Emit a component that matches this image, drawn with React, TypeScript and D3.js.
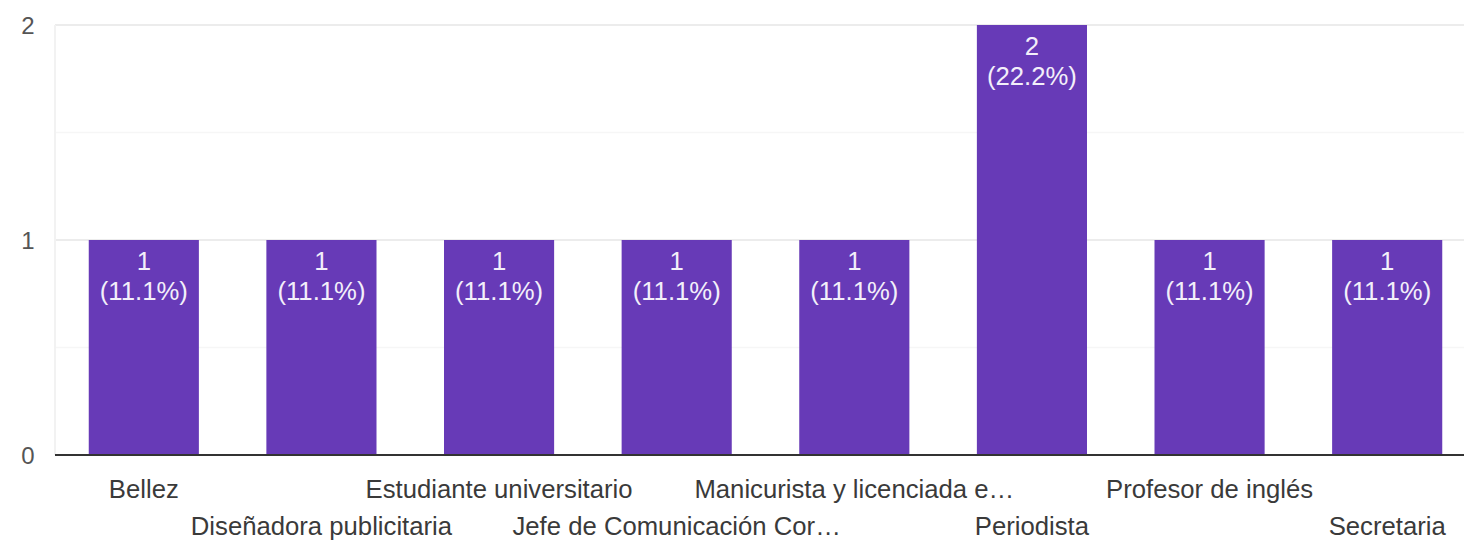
import { useEffect, useRef } from "react";
import * as d3 from "d3";

const W = 1464;
const H = 540;
const M = { top: 25, right: -12, bottom: 85, left: 55 };
const FONT = "'Liberation Sans', Arial, Helvetica, sans-serif";
const FS = 25.7;

const categories = [
  "Bellez",
  "Diseñadora publicitaria",
  "Estudiante universitario",
  "Jefe de Comunicación Cor…",
  "Manicurista y licenciada e…",
  "Periodista",
  "Profesor de inglés",
  "Secretaria",
];
const counts = [1, 1, 1, 1, 1, 2, 1, 1];
const percents = ["11.1%", "11.1%", "11.1%", "11.1%", "11.1%", "22.2%", "11.1%", "11.1%"];
const yTicks = [0, 1, 2];
const yMinorTicks = [0.5, 1.5];

export default function App() {
  const svgRef = useRef<SVGSVGElement>(null);

  useEffect(() => {
    if (!svgRef.current) return;
    const el = svgRef.current;
    d3.select(el).selectAll("*").remove();

    const iW = W - M.left - M.right;
    const iH = H - M.top - M.bottom;

    const svg = d3.select(el).append("g").attr("transform", `translate(${M.left},${M.top})`);

    const x = d3.scaleBand<string>().domain(categories).range([0, iW])
      .paddingInner(0.38).paddingOuter(0.19);
    const y = d3.scaleLinear().domain([0, 2]).range([iH, 0]);

    // grid
    yMinorTicks.forEach(v => {
      svg.append("line").attr("x1", 0).attr("x2", iW)
        .attr("y1", y(v)).attr("y2", y(v))
        .attr("stroke", "#f6f6f6").attr("stroke-width", 1.5);
    });
    yTicks.filter(v => v > 0).forEach(v => {
      svg.append("line").attr("x1", 0).attr("x2", iW)
        .attr("y1", y(v)).attr("y2", y(v))
        .attr("stroke", "#ececec").attr("stroke-width", 2);
    });
    svg.append("line").attr("x1", 0).attr("x2", 0)
      .attr("y1", 0).attr("y2", iH)
      .attr("stroke", "#f2f2f2").attr("stroke-width", 2);

    // bars
    svg.selectAll("rect.bar").data(counts).join("rect")
      .attr("class", "bar")
      .attr("x", (_, i) => x(categories[i])!)
      .attr("y", d => y(d))
      .attr("width", x.bandwidth())
      .attr("height", d => iH - y(d))
      .attr("fill", "#673ab7");

    // bar labels
    const lbl = svg.selectAll("g.lbl").data(counts).join("g")
      .attr("class", "lbl")
      .attr("transform", (d, i) => `translate(${x(categories[i])! + x.bandwidth() / 2},${y(d)})`);
    lbl.append("text").attr("y", 30).attr("text-anchor", "middle")
      .attr("font-family", FONT).attr("font-size", FS).attr("fill", "#f3effa")
      .text(d => String(d));
    lbl.append("text").attr("y", 60).attr("text-anchor", "middle")
      .attr("font-family", FONT).attr("font-size", FS).attr("fill", "#f3effa")
      .text((_, i) => `(${percents[i]})`);

    // baseline
    svg.append("line").attr("x1", 0).attr("x2", iW)
      .attr("y1", iH).attr("y2", iH)
      .attr("stroke", "#333").attr("stroke-width", 2);

    // y tick labels
    yTicks.forEach(v => {
      svg.append("text").attr("x", -27).attr("y", y(v) + 9)
        .attr("text-anchor", "middle")
        .attr("font-family", FONT).attr("font-size", 24).attr("fill", "#555")
        .text(String(v));
    });

    // category labels, staggered
    categories.forEach((c, i) => {
      svg.append("text")
        .attr("x", x(c)! + x.bandwidth() / 2)
        .attr("y", iH + (i % 2 === 0 ? 43 : 80))
        .attr("text-anchor", "middle")
        .attr("font-family", FONT).attr("font-size", FS).attr("fill", "#3a3a3a")
        .text(c);
    });
  }, []);

  return (
    <svg ref={svgRef} width={W} height={H}
      style={{ position: "absolute", left: 0, top: 0, display: "block", background: "#fff" }} />
  );
}
